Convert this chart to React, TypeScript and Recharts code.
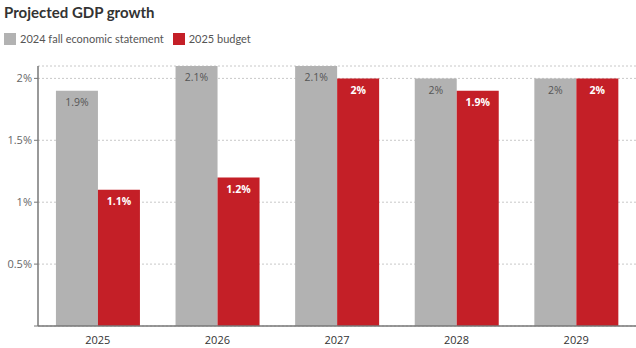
import React from 'react';
import { BarChart, Bar, XAxis, YAxis, CartesianGrid, LabelList } from 'recharts';

const years = ['2025', '2026', '2027', '2028', '2029'];
const fallStatement = [1.9, 2.1, 2.1, 2, 2];
const budget2025 = [1.1, 1.2, 2, 1.9, 2];
const yTicks = [0, 0.5, 1, 1.5, 2];

const data = years.map((year, i) => ({
  year,
  fall: fallStatement[i],
  budget: budget2025[i],
}));

const GRAY = '#b2b2b2';
const RED = '#c41f27';
const FONT = '"Open Sans", "DejaVu Sans", sans-serif';
const HEAD_FONT = 'Lato, "Open Sans", sans-serif';

const pct = (v: any) => `${v}%`;

function LegendItem({ color, label }: { color: string; label: string }) {
  return (
    <span style={{ display: 'inline-flex', alignItems: 'center', marginRight: 9 }}>
      <span style={{ width: 12, height: 12, background: color, marginRight: 4, display: 'inline-block' }} />
      <span>{label}</span>
    </span>
  );
}

export default function App() {
  return (
    <div style={{ position: 'absolute', left: 0, top: 0, width: 636, height: 348, background: '#fff', fontFamily: FONT }}>
      <div style={{ position: 'absolute', left: 4, top: 3, fontSize: 15, fontWeight: 700, color: '#333', fontFamily: HEAD_FONT }}>
        Projected GDP growth
      </div>
      <div style={{ position: 'absolute', left: 4, top: 32, fontSize: 11, color: '#555', display: 'flex', fontFamily: HEAD_FONT }}>
        <LegendItem color={GRAY} label="2024 fall economic statement" />
        <LegendItem color={RED} label="2025 budget" />
      </div>
      <div style={{ position: 'absolute', left: 0, top: 0 }}>
        <BarChart
          width={636}
          height={348}
          data={data}
          margin={{ top: 66, right: 0, left: 0, bottom: 0 }}
          barCategoryGap="15%"
          barGap={0}
        >
          <CartesianGrid vertical={false} stroke="#c8c8c8" strokeDasharray="2 2" />
          <XAxis
            dataKey="year"
            height={22}
            tickLine={false}
            axisLine={{ stroke: '#777', strokeWidth: 1.5 }}
            tick={{ fontSize: 11, fill: '#333', fontFamily: FONT }}
            tickMargin={4}
          />
          <YAxis
            width={38}
            domain={[0, 2.1]}
            ticks={yTicks}
            tickFormatter={(v: number) => (v === 0 ? '' : `${v}%`)}
            tickLine={{ stroke: '#777' }}
            tickSize={4}
            axisLine={{ stroke: '#777', strokeWidth: 1.5 }}
            tick={{ fontSize: 11, fill: '#666', fontFamily: FONT }}
            allowDataOverflow
          />
          <Bar dataKey="fall" fill={GRAY} isAnimationActive={false}>
            <LabelList
              dataKey="fall"
              position="insideTop"
              offset={8}
              formatter={pct}
              style={{ fontSize: 10.5, fill: '#555', fontFamily: FONT }}
            />
          </Bar>
          <Bar dataKey="budget" fill={RED} isAnimationActive={false}>
            <LabelList
              dataKey="budget"
              position="insideTop"
              offset={8}
              formatter={pct}
              style={{ fontSize: 10.5, fill: '#fff', fontWeight: 700, fontFamily: FONT }}
            />
          </Bar>
        </BarChart>
      </div>
    </div>
  );
}
